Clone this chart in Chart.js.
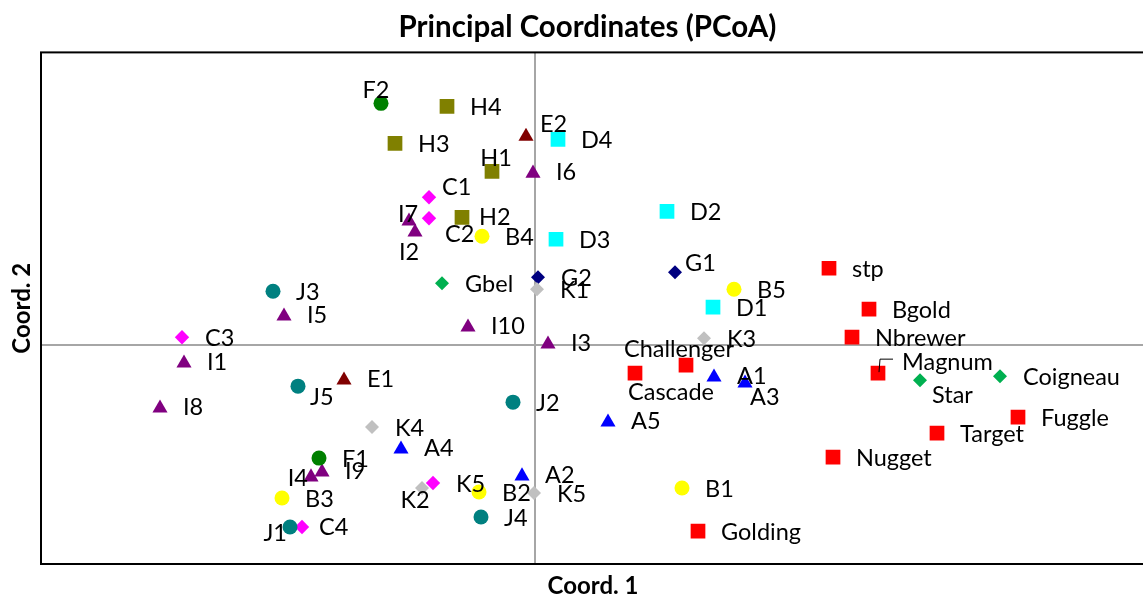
<!DOCTYPE html>
<html lang="en">
<head>
  <meta charset="UTF-8">
  <title>Principal Coordinates (PCoA)</title>
  <script src="https://cdn.jsdelivr.net/npm/chart.js"></script>
  <style>
    html, body {
      margin: 0;
      padding: 0;
      overflow: hidden;
      background: #fff;
    }
    #wrap {
      position: relative;
      width: 1148px;
      height: 598px;
    }
  </style>
</head>
<body>

  <div id="wrap"><canvas id="pcoaChart"></canvas></div>

  <script>
    // each entry: [sample, coord 1, coord 2]
    const groupA = [['A1', 0.179, -0.032], ['A2', -0.013, -0.131], ['A3', 0.210, -0.038], ['A4', -0.134, -0.104], ['A5', 0.073, -0.077]];
    const groupB = [['B1', 0.147, -0.143], ['B2', -0.056, -0.147], ['B3', -0.253, -0.153], ['B4', -0.053, 0.109], ['B5', 0.199, 0.056]];
    const groupC = [['C1', -0.106, 0.148], ['C2', -0.106, 0.127], ['C3', -0.353, 0.008], ['C4', -0.233, -0.182], ['K5', -0.102, -0.138]];
    const groupD = [['D1', 0.178, 0.038], ['D2', 0.132, 0.134], ['D3', 0.021, 0.106], ['D4', 0.023, 0.206]];
    const groupE = [['E1', -0.191, -0.035], ['E2', -0.009, 0.209]];
    const groupF = [['F1', -0.216, -0.113], ['F2', -0.154, 0.242]];
    const groupG = [['G1', 0.140, 0.073], ['G2', 0.003, 0.068]];
    const groupH = [['H1', -0.043, 0.174], ['H2', -0.073, 0.128], ['H3', -0.140, 0.202], ['H4', -0.088, 0.239]];
    const groupI = [['I1', -0.351, -0.018], ['I2', -0.120, 0.113], ['I3', 0.013, 0.001], ['I4', -0.224, -0.132], ['I5', -0.251, 0.029],
                    ['I6', -0.002, 0.172], ['I7', -0.126, 0.124], ['I8', -0.375, -0.063], ['I9', -0.213, -0.127], ['I10', -0.067, 0.018]];
    const groupJ = [['J1', -0.245, -0.182], ['J2', -0.022, -0.057], ['J3', -0.262, 0.054], ['J4', -0.054, -0.172], ['J5', -0.237, -0.041]];
    const groupK = [['K1', 0.002, 0.056], ['K2', -0.113, -0.143], ['K3', 0.169, 0.007], ['K4', -0.163, -0.082], ['K5', -0.001, -0.148]];
    const cultivars = [['stp', 0.294, 0.077], ['Bgold', 0.334, 0.036], ['Nbrewer', 0.317, 0.008], ['Magnum', 0.343, -0.028],
                       ['Challenger', 0.151, -0.020], ['Cascade', 0.100, -0.028], ['Fuggle', 0.483, -0.072], ['Target', 0.402, -0.088],
                       ['Nugget', 0.298, -0.112], ['Golding', 0.163, -0.186]];
    const references = [['Gbel', -0.093, 0.062], ['Star', 0.385, -0.035], ['Coigneau', 0.465, -0.031]];

    const xRange = [-0.494, 0.610];
    const yRange = [-0.219, 0.293];

    // where a label sits relative to its marker (default: to the right)
    const labelPlacement = {
      F2: { align: 'center', dx: -5, dy: -13 },
      H1: { align: 'center', dx: 4, dy: -13 },
      E2: { align: 'left', dx: 14, dy: -10 },
      C1: { align: 'left', dx: 13, dy: -10 },
      I7: { align: 'center', dx: -1, dy: -5 },
      I2: { align: 'center', dx: -6, dy: 22 },
      C2: { align: 'left', dx: 16, dy: 16 },
      H2: { align: 'left', dx: 17, dy: 0 },
      G1: { align: 'left', dx: 10, dy: -9 },
      Challenger: { align: 'center', dx: -7, dy: -16 },
      Cascade: { align: 'left', dx: -7, dy: 19 },
      A3: { align: 'left', dx: 5, dy: 16 },
      Magnum: { align: 'left', dx: 24, dy: -11, leader: true },
      Star: { align: 'left', dx: 12, dy: 15 },
      I4: { align: 'right', dx: -3, dy: 3 },
      K2: { align: 'center', dx: -7, dy: 12 },
      J1: { align: 'right', dx: -3, dy: 6 },
      C4: { align: 'left', dx: 17, dy: 0 },
      J5: { align: 'left', dx: 12, dy: 11 }
    };

    const labelFont = '23.5px Lato, sans-serif';

    function makeSet(rows, color, style, radius) {
      return {
        names: rows.map(r => r[0]),
        data: rows.map(r => ({ x: r[1], y: r[2] })),
        pointStyle: style,
        pointRadius: radius,
        pointHoverRadius: radius,
        backgroundColor: color,
        borderColor: color,
        borderWidth: 0
      };
    }

    // black box round the plot area
    const frame = {
      id: 'frame',
      afterDatasetsDraw(chart) {
        const { ctx, chartArea: a } = chart;
        ctx.save();
        ctx.strokeStyle = '#000';
        ctx.lineWidth = 2;
        ctx.strokeRect(a.left, a.top, a.right - a.left, a.bottom - a.top);
        ctx.restore();
      }
    };

    // sample names beside each marker
    const pointLabels = {
      id: 'pointLabels',
      afterDatasetsDraw(chart) {
        const ctx = chart.ctx;
        ctx.save();
        ctx.font = labelFont;
        ctx.fillStyle = '#000';
        ctx.textBaseline = 'middle';
        chart.data.datasets.forEach((ds, di) => {
          const meta = chart.getDatasetMeta(di);
          const lift = ds.pointStyle === 'triangle' ? -2 : 0;
          meta.data.forEach((pt, i) => {
            const name = ds.names[i];
            const p = labelPlacement[name] || { align: 'left', dx: 23, dy: 1 };
            ctx.textAlign = p.align;
            ctx.fillText(name, pt.x + p.dx, pt.y + p.dy + lift);
            if (p.leader) {
              ctx.beginPath();
              ctx.strokeStyle = '#000';
              ctx.lineWidth = 1;
              ctx.moveTo(pt.x + 1, pt.y - 1);
              ctx.lineTo(pt.x + 2, pt.y - 14);
              ctx.lineTo(pt.x + 15, pt.y - 14);
              ctx.stroke();
            }
          });
        });
        ctx.restore();
      }
    };

    const zeroLine = ctx => Math.abs(ctx.tick.value) < 1e-9 ? '#a6a6a6' : 'rgba(0,0,0,0)';

    new Chart(document.getElementById('pcoaChart'), {
      type: 'scatter',
      data: {
        datasets: [
          makeSet(groupH, '#808000', 'rect', 10.4),
          makeSet(groupD, '#00ffff', 'rect', 10.4),
          makeSet(cultivars, '#ff0000', 'rect', 10.4),
          makeSet(groupB, '#ffff00', 'circle', 7.5),
          makeSet(groupF, '#008000', 'circle', 7.5),
          makeSet(groupJ, '#008080', 'circle', 7.5),
          makeSet(groupK, '#c0c0c0', 'rectRot', 7),
          makeSet(groupC, '#ff00ff', 'rectRot', 7.2),
          makeSet(groupG, '#000080', 'rectRot', 7),
          makeSet(references, '#00b050', 'rectRot', 7),
          makeSet(groupA, '#0000ff', 'triangle', 8.7),
          makeSet(groupE, '#800000', 'triangle', 8.7),
          makeSet(groupI, '#800080', 'triangle', 8.7)
        ]
      },
      options: {
        responsive: true,
        maintainAspectRatio: false,
        animation: false,
        // wide left padding pushes the main title right; the y title pulls back with a negative pad
        layout: { autoPadding: false, padding: { left: 30, right: 3, top: 0, bottom: 0 } },
        scales: {
          x: {
            min: xRange[0],
            max: xRange[1],
            ticks: { display: false },
            grid: { color: zeroLine, lineWidth: 2, drawTicks: false },
            border: { display: false },
            title: {
              display: true,
              text: 'Coord. 1',
              color: '#000',
              font: { family: 'Lato', size: 24, weight: 'bold', lineHeight: 1 },
              padding: { top: 10, bottom: 0 }
            }
          },
          y: {
            min: yRange[0],
            max: yRange[1],
            ticks: { display: false },
            grid: { color: zeroLine, lineWidth: 2, drawTicks: false },
            border: { display: false },
            title: {
              display: true,
              text: 'Coord. 2',
              color: '#000',
              font: { family: 'Lato', size: 24, weight: 'bold', lineHeight: 1 },
              padding: { top: -20, bottom: 7 }
            }
          }
        },
        plugins: {
          legend: { display: false },
          tooltip: { enabled: false },
          title: {
            display: true,
            text: 'Principal Coordinates (PCoA)',
            color: '#000',
            font: { family: 'Lato', size: 29.5, weight: 'bold' },
            padding: { top: 10, bottom: 7 }
          }
        }
      },
      plugins: [frame, pointLabels]
    });
  </script>

</body>
</html>
